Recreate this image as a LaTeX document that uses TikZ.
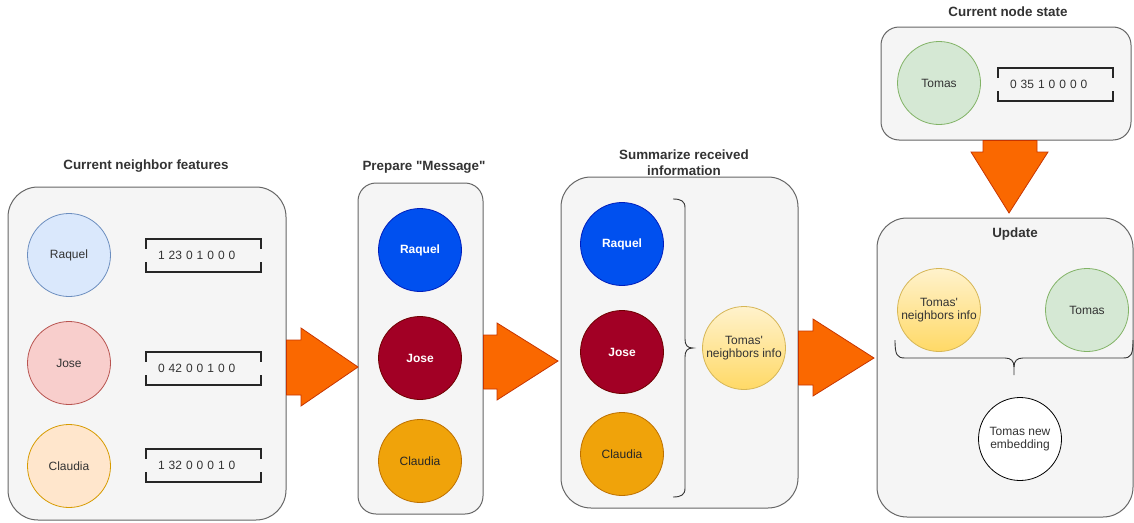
\documentclass[tikz,border=0pt]{standalone}
\usepackage{fontspec}
\setmainfont{Liberation Sans}[Ligatures=TeXOff]
\definecolor{boxfill}{HTML}{F5F5F5}
\definecolor{boxline}{HTML}{666666}
\definecolor{txt}{HTML}{333333}
\definecolor{bluef}{HTML}{DAE8FC}\definecolor{bluel}{HTML}{6C8EBF}
\definecolor{redf}{HTML}{F8CECC}\definecolor{redl}{HTML}{B85450}
\definecolor{orf}{HTML}{FFE6CC}\definecolor{orl}{HTML}{D79B00}
\definecolor{grf}{HTML}{D5E8D4}\definecolor{grl}{HTML}{82B366}
\definecolor{dbluef}{HTML}{0050EF}\definecolor{dbluel}{HTML}{001DBC}
\definecolor{dredf}{HTML}{A20025}\definecolor{dredl}{HTML}{6F0000}
\definecolor{dorf}{HTML}{F0A30A}\definecolor{dorl}{HTML}{BD7000}
\definecolor{yelt}{HTML}{FFF2CC}\definecolor{yelb}{HTML}{FFD966}\definecolor{yell}{HTML}{D6B656}
\definecolor{arrf}{HTML}{FA6800}\definecolor{arrl}{HTML}{C73500}
\newcommand{\featvec}[3]{%
  \node[vectext] (#1) at (#2) {#3};
  \draw[vecline] ([yshift=-10pt]#1.north west) -- (#1.north west) -- (#1.north east) -- ([yshift=-10pt]#1.north east);
  \draw[vecline] ([yshift=10pt]#1.south west) -- (#1.south west) -- (#1.south east) -- ([yshift=10pt]#1.south east);
}
\begin{document}
\begin{tikzpicture}[x=1pt,y=-1pt,
  every node/.style={font=\fontsize{12}{13.5}\selectfont, text=txt},
  panel/.style={draw=boxline, fill=boxfill, line width=1pt, rectangle, inner sep=0},
  ttl/.style={font=\fontsize{13.4}{15}\selectfont\bfseries, align=center},
  nd/.style={circle, minimum size=83, inner sep=0, line width=0.8pt, align=center},
  light/.style={nd, fill=#1f, draw=#1l},
  dark/.style={nd, fill=d#1f, draw=d#1l},
  vectext/.style={rectangle, minimum height=33, text width=91, inner xsep=12, inner ysep=0, align=left},
  vecline/.style={line width=1.6pt, draw=black!85},
  blk/.style={fill=arrf, draw=arrl, line width=0.8pt, line join=miter},
  brace/.style={draw=black!80, line width=0.9pt}
]
\useasboundingbox (0,0) rectangle (1134,522);

% panels
\node[panel, rounded corners=30, minimum width=278, minimum height=333] (p1) at (147,353.5) {};
\node[panel, rounded corners=18, minimum width=125, minimum height=331] (p2) at (420.5,348.5) {};
\node[panel, rounded corners=30, minimum width=237, minimum height=331] (p3) at (679.5,342.5) {};
\node[panel, rounded corners=30, minimum width=256, minimum height=299] (p4) at (1005,367.5) {};
\node[panel, rounded corners=18, minimum width=250, minimum height=113] (p5) at (1006,83.5) {};

% titles
\node[ttl] (t1) at (146,166) {Current neighbor features};
\node[ttl] (t2) at (424,167) {Prepare "Message"};
\node[ttl, font=\fontsize{13.4}{16.5}\selectfont\bfseries] (t3) at (684,162.5) {Summarize received\\information};
\node[ttl] (t4) at (1008,12) {Current node state};
\node[ttl] (t5) at (1015,234) {Update};

% panel 1
\node[light=blue] (r1) at (69,255) {Raquel};
\node[light=red] (j1) at (69,363) {Jose};
\node[light=or] (c1) at (69,466) {Claudia};
\featvec{v1}{203.5,255.5}{1 23 0 1 0 0 0}
\featvec{v2}{203.5,368.5}{0 42 0 0 1 0 0}
\featvec{v3}{203.5,465.5}{1 32 0 0 0 1 0}

% panel 2
\node[dark=blue, text=white, font=\fontsize{12}{13.5}\selectfont\bfseries] (r2) at (420,250) {Raquel};
\node[dark=red, text=white, font=\fontsize{12}{13.5}\selectfont\bfseries] (j2) at (420,358) {Jose};
\node[dark=or, text=black!85] (c2) at (420,461) {Claudia};

% panel 3
\node[dark=blue, text=white, font=\fontsize{12}{13.5}\selectfont\bfseries] (r3) at (622,244) {Raquel};
\node[dark=red, text=white, font=\fontsize{12}{13.5}\selectfont\bfseries] (j3) at (622,352) {Jose};
\node[dark=or, text=black!85] (c3) at (622,454) {Claudia};
\node[nd, top color=yelt, bottom color=yelb, draw=yell] (n3) at (744,348) {Tomas'\\neighbors info};
\draw[brace] (673,199) .. controls (681,199) and (685,201) .. (685,208) -- (685,339)
  .. controls (685,345) and (687,348) .. (693,348)
  .. controls (687,348) and (685,351) .. (685,357) -- (685,488)
  .. controls (685,495) and (681,497) .. (673,497);

% panel 5
\node[light=gr] (tm5) at (939,83) {Tomas};
\featvec{v5}{1055.5,84.5}{0 35 1 0 0 0 0}

% panel 4
\node[nd, top color=yelt, bottom color=yelb, draw=yell] (n4) at (939,310) {Tomas'\\neighbors info};
\node[light=gr] (tm4) at (1087,310) {Tomas};
\node[nd, fill=white, draw=black] (emb) at (1020,439) {Tomas new\\embedding};
\coordinate (bl) at (895,340);
\coordinate (br) at (1133,340);
\coordinate (bm) at (1014,375);
\draw[brace] (bl) .. controls (895,355) and (897,358) .. (905,358) -- (1005,358)
  .. controls (1011,358) and (1014,361) .. (1014,367) -- (bm);
\draw[brace] (1014,367) .. controls (1014,361) and (1017,358) .. (1023,358) -- (1123,358)
  .. controls (1131,358) and (1133,355) .. (br);

% block arrows
\draw[blk] (p1.east |- 0,340) -- (301,340) -- (301,328) -- (358,367) -- (301,406) -- (301,395) -- (p1.east |- 0,395) -- cycle;
\draw[blk] (p2.east |- 0,335) -- (497,335) -- (497,323) -- (558,361) -- (497,400) -- (497,389) -- (p2.east |- 0,389) -- cycle;
\draw[blk] (p3.east |- 0,331) -- (813,331) -- (813,319) -- (874,358) -- (813,396) -- (813,385) -- (p3.east |- 0,385) -- cycle;
\draw[blk] (983,0 |- p5.south) -- (983,152) -- (971,152) -- (1009,213) -- (1048,152) -- (1037,152) -- (1037,0 |- p5.south) -- cycle;
\end{tikzpicture}
\end{document}
